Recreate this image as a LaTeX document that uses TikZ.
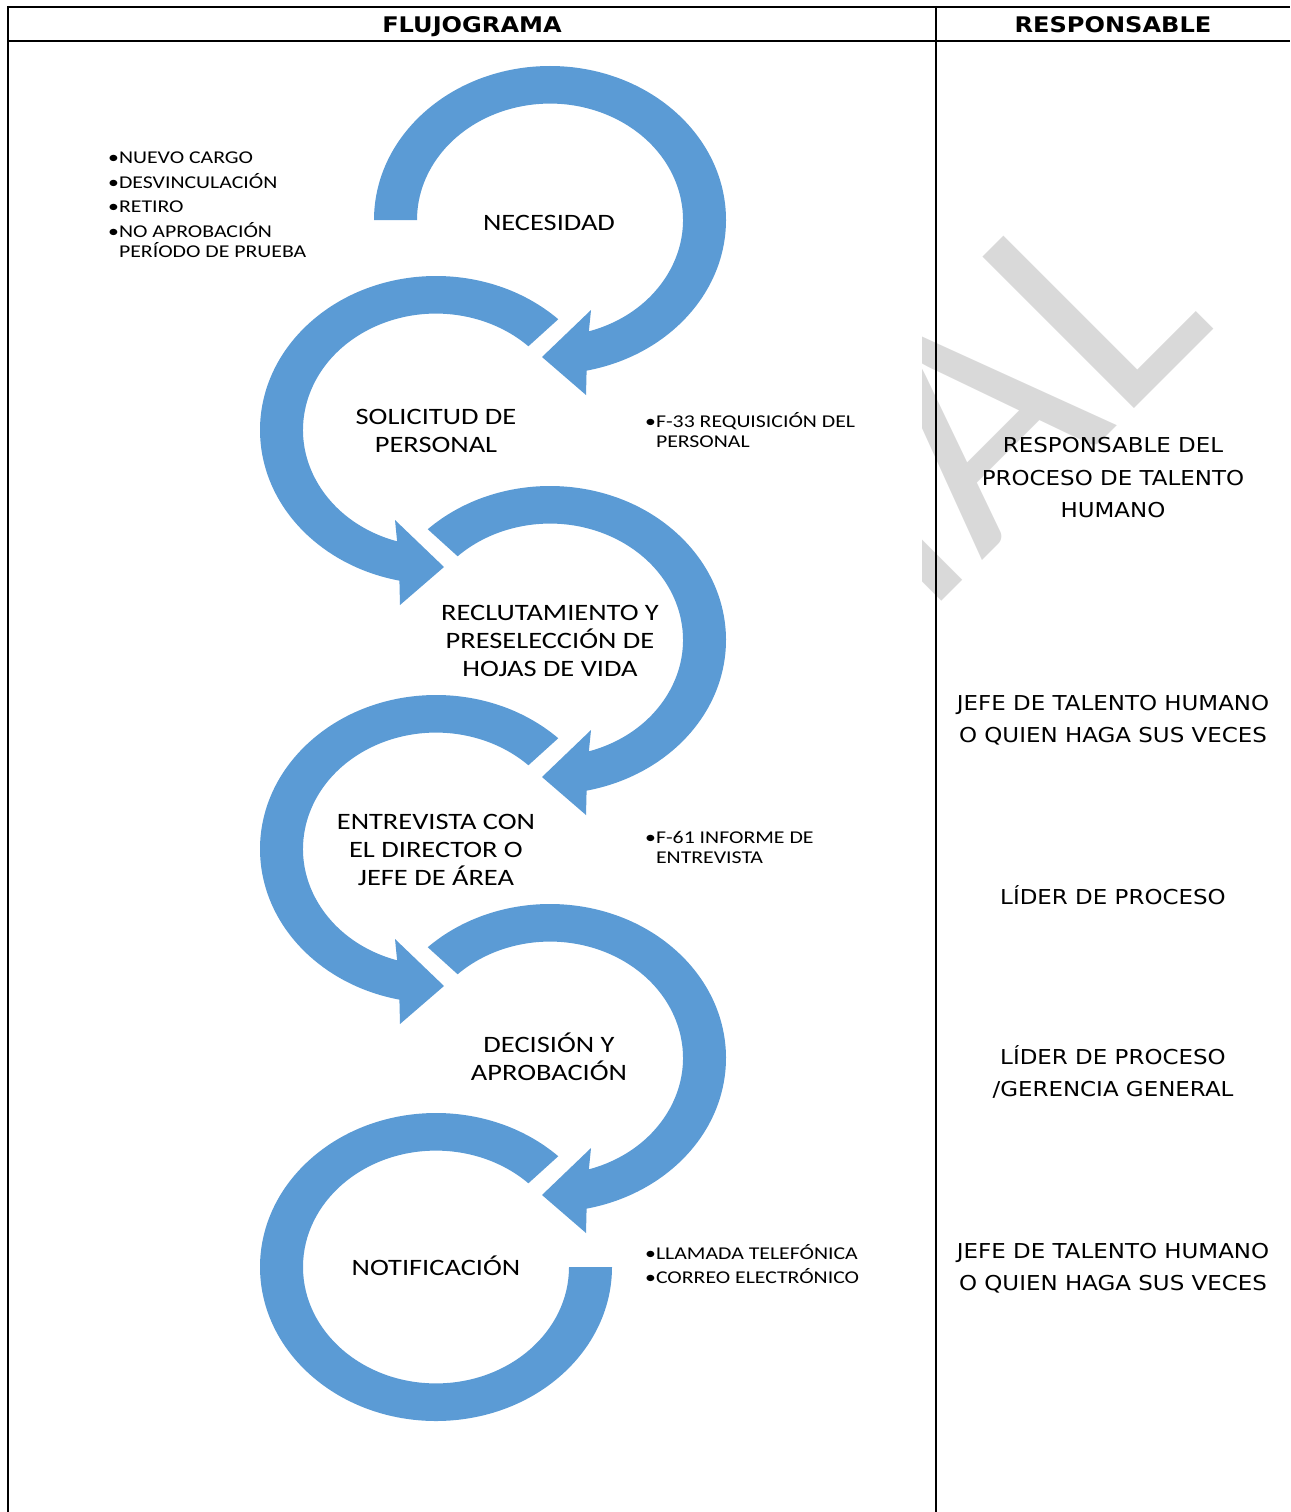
\documentclass[tikz,border=0pt]{standalone}
\usepackage{fontspec}
\setmainfont{DejaVu Sans}
\newfontfamily\tabfont{DejaVu Sans}[FakeStretch=1.12]
\newfontfamily\smartfont{Carlito}[FakeStretch=1.21]
\newfontfamily\wmfont{Carlito}
\usetikzlibrary{calc}
\definecolor{smartblue}{RGB}{91,155,213}
\definecolor{wmgray}{RGB}{217,217,217}

% ring turning clockwise, arrow at the bottom pointing left
\newcommand\ringR[2]{%
  \fill[ring] ($(#1)+(#2:176 and 154)$)
     arc[start angle=#2, end angle=-78, x radius=176, y radius=154]
     -- ($(#1)+(36,-175)$) -- ($(#1)+(-8,-137)$) -- ($(#1)+(41,-90)$)
     -- ($(#1)+(-73:133 and 116.4)$)
     arc[start angle=-73, end angle=#2, x radius=133, y radius=116.4] -- cycle;}
% ring turning counter-clockwise, arrow at the bottom pointing right
\newcommand\ringL[2]{%
  \fill[ring] ($(#1)+(#2:176 and 154)$)
     arc[start angle=#2, end angle=258, x radius=176, y radius=154]
     -- ($(#1)+(-36,-175)$) -- ($(#1)+(8,-137)$) -- ($(#1)+(-41,-90)$)
     -- ($(#1)+(253:133 and 116.4)$)
     arc[start angle=253, end angle=#2, x radius=133, y radius=116.4] -- cycle;}

\begin{document}
\begin{tikzpicture}[x=1pt, y=1pt,
     ring/.style = {fill=smartblue},
  steptxt/.style = {font=\smartfont\fontsize{23.5}{28}\selectfont,
                    align=center, inner sep=0pt},
     note/.style = {font=\smartfont\fontsize{18}{20}\selectfont,
                    align=left, anchor=north west, inner sep=0pt},
     resp/.style = {font=\tabfont\fontsize{20.5}{32.5}\selectfont,
                    align=center, inner sep=0pt},
     head/.style = {font=\tabfont\bfseries\fontsize{21.5}{25}\selectfont,
                    inner sep=0pt, anchor=base},
  tabline/.style = {line width=2pt},
    wmark/.style = {font=\wmfont\fontsize{334}{334}\selectfont, text=wmgray,
                    inner sep=0pt, rotate=45, anchor=base west},
                    ]
\useasboundingbox (0,0) rectangle (1290,-1512);

% watermark, only its end shows in the right column
\begin{scope}
\clip (922,-42) rectangle (1290,-1512);
\node[wmark] (wm) at (796,-747) {CIAL};
\end{scope}

% centres of the rings
\coordinate (n1) at (550,-220);
\coordinate (n2) at (436,-430);
\coordinate (n3) at (550,-640);
\coordinate (n4) at (436,-849);
\coordinate (n5) at (550,-1058);
\coordinate (n6) at (436,-1267);

\foreach \c/\s in {n1/180, n3/134, n5/134}
    \ringR{\c}{\s};
\foreach \c in {n2, n4}
    \ringL{\c}{46};
% last ring has no arrow
\fill[ring] ($(n6)+(46:176 and 154)$)
     arc[start angle=46, end angle=360, x radius=176, y radius=154]
     -- ($(n6)+(133,0)$)
     arc[start angle=360, end angle=46, x radius=133, y radius=116.4] -- cycle;

% steps
\node[steptxt] (necesidad)  at ($(n1)+(-1,-3)$)   {NECESIDAD};
\node[steptxt] (solicitud)  at ($(n2)+(0,-1)$)    {SOLICITUD DE\\PERSONAL};
\node[steptxt] (reclut)     at ($(n3)+(0,-1)$)    {RECLUTAMIENTO Y\\PRESELECCIÓN DE\\HOJAS DE VIDA};
\node[steptxt] (entrevista) at ($(n4)+(0,-1)$)    {ENTREVISTA CON\\EL DIRECTOR O\\JEFE DE ÁREA};
\node[steptxt] (decision)   at ($(n5)+(-1,1.5)$)  {DECISIÓN Y\\APROBACIÓN};
\node[steptxt] (notif)      at ($(n6)+(0,1.5)$)   {NOTIFICACIÓN};

% notes beside the steps
\node[note] (causas)  at (108,-152)  {•NUEVO CARGO\\[4.5pt]•DESVINCULACIÓN\\[4.5pt]•RETIRO\\[4.5pt]%
                                      •NO APROBACIÓN\\\phantom{•}PERÍODO DE PRUEBA};
\node[note] (req)     at (645,-412)  {•F-33 REQUISICIÓN DEL\\\phantom{•}PERSONAL};
\node[note] (informe) at (645,-831)  {•F-61 INFORME DE\\\phantom{•}ENTREVISTA};
\node[note] (medios)  at (645,-1244) {•LLAMADA TELEFÓNICA\\[4.5pt]•CORREO ELECTRÓNICO};

% table
\node[head] (hdflujo) at (472,-33)  {FLUJOGRAMA};
\node[head] (hdresp)  at (1113,-33) {RESPONSABLE};
\draw[tabline] (7,-7) -- (1290,-7);
\draw[tabline] (7,-41) -- (1290,-41);
\draw[tabline] (8,-6) -- (8,-1512);
\draw[tabline] (936,-6) -- (936,-1512);

\node[resp] (resp1) at (1113,-478)    {RESPONSABLE DEL\\PROCESO DE TALENTO\\HUMANO};
\node[resp] (resp2) at (1113,-720)    {JEFE DE TALENTO HUMANO\\O QUIEN HAGA SUS VECES};
\node[resp] (resp3) at (1113,-895.5)  {LÍDER DE PROCESO};
\node[resp] (resp4) at (1113,-1072)   {LÍDER DE PROCESO\\/GERENCIA GENERAL};
\node[resp] (resp5) at (1113,-1268)   {JEFE DE TALENTO HUMANO\\O QUIEN HAGA SUS VECES};

\end{tikzpicture}
\end{document}
